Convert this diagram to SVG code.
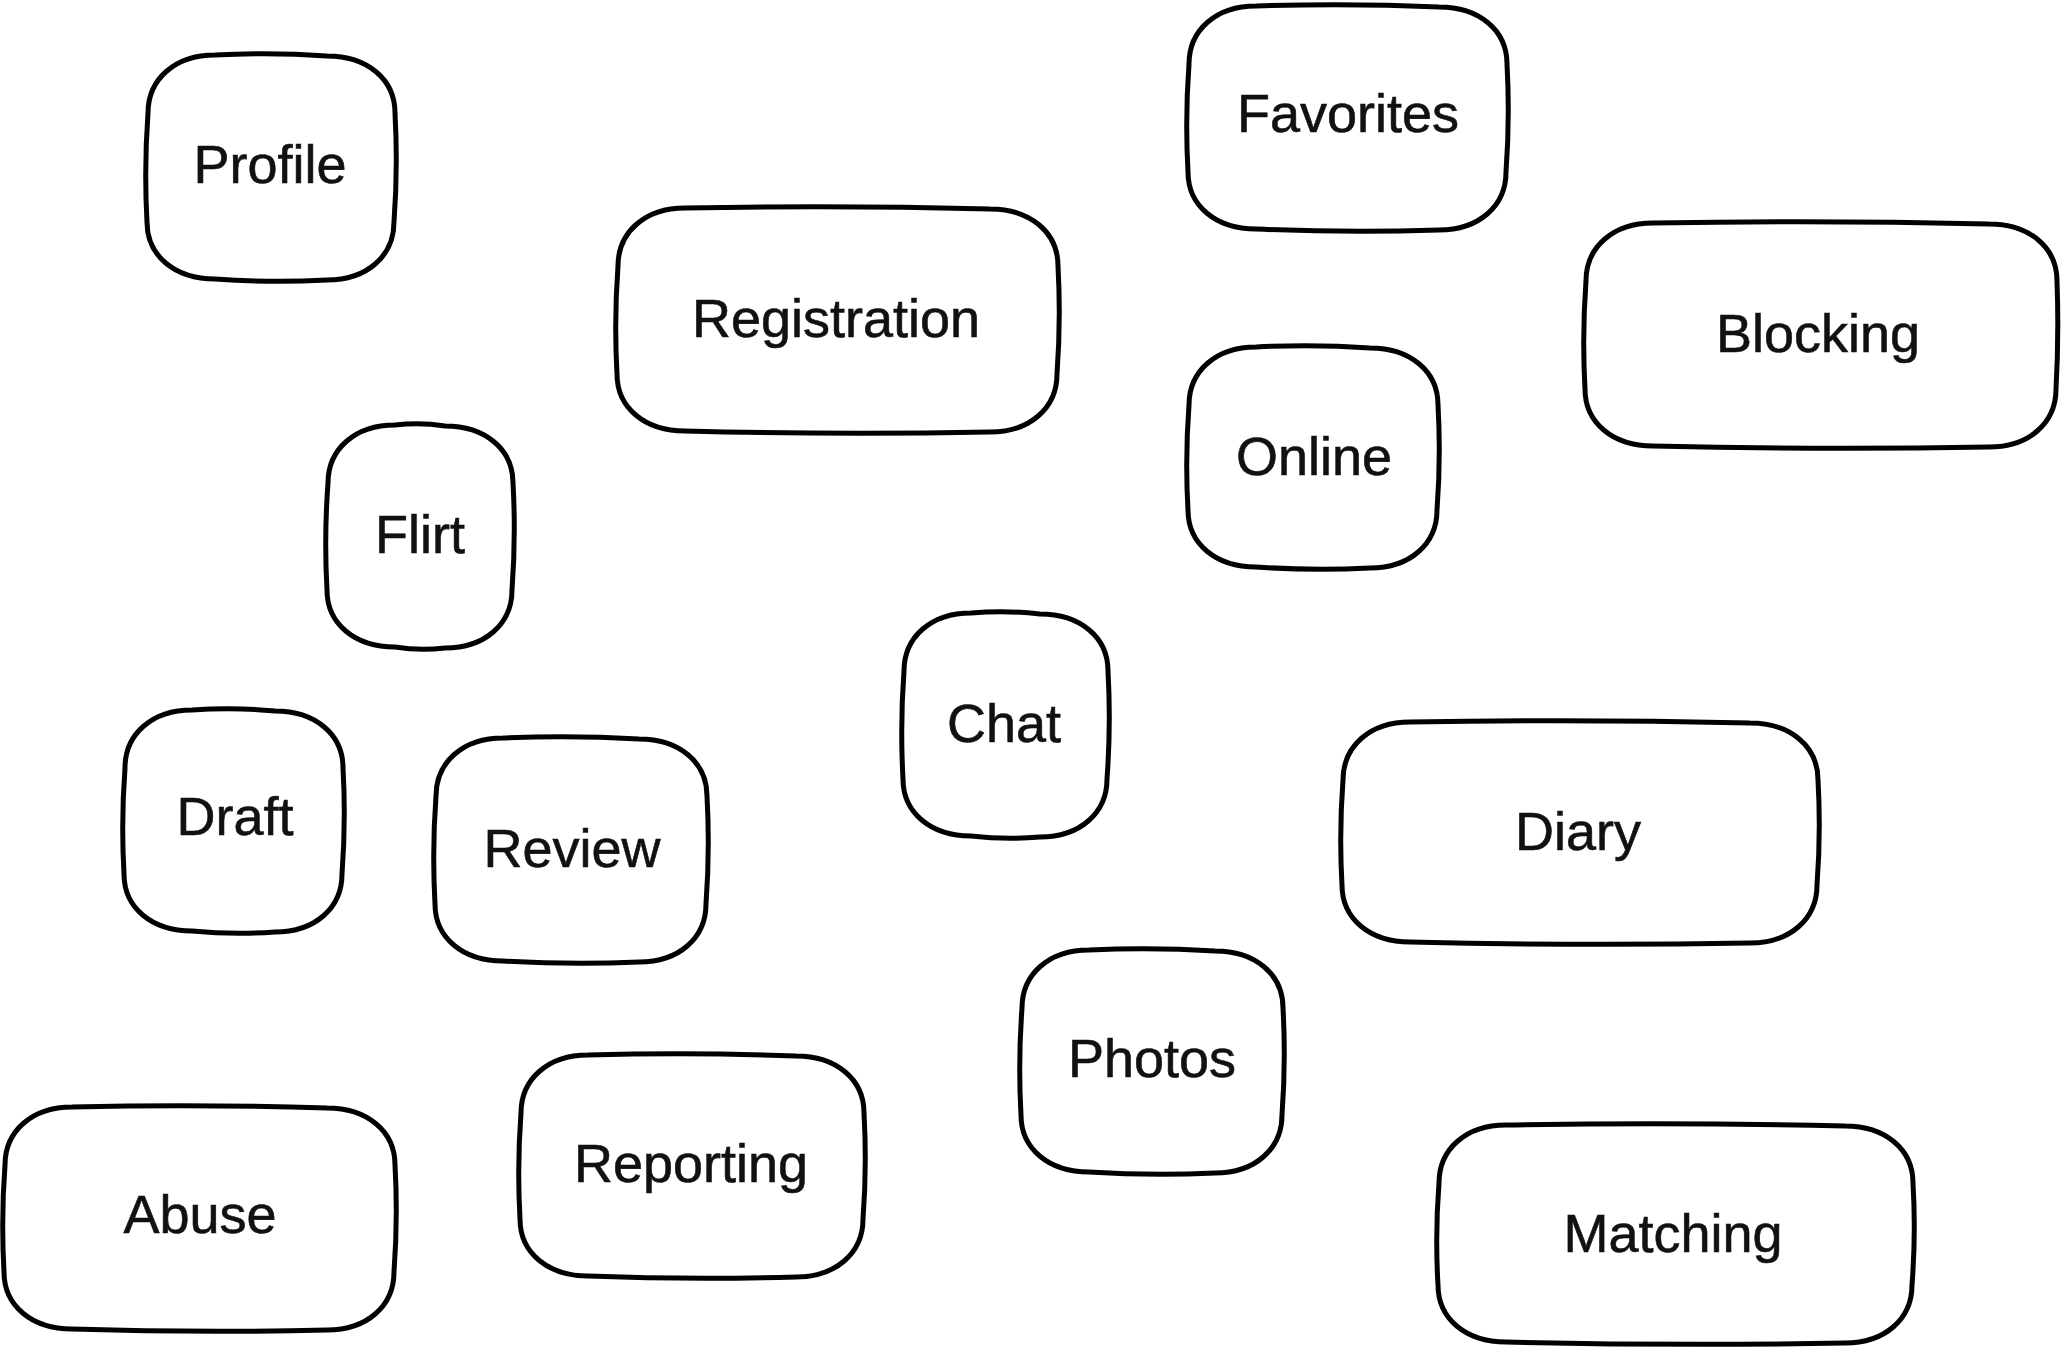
<svg xmlns="http://www.w3.org/2000/svg" width="2062" height="1350" viewBox="0 0 2062 1350">
<style>
.box{fill:#ffffff;stroke:#000000;stroke-width:5;stroke-linejoin:round;stroke-linecap:round}
.lbl{font-family:"Liberation Sans",Arial,sans-serif;font-size:54px;fill:#111111;text-anchor:middle;stroke:#111111;stroke-width:0.6}
</style>
<rect width="2062" height="1350" fill="#ffffff"/>
<g id="connectors"></g>
<g id="node-profile"><path class="box" d="M 215 55 Q 271 52 327 56 C 367 56 395 79 395 113 Q 398 168 394 222 C 394 256 367 280 327 280 Q 271 283 215 279 C 175 279 147 256 147 222 Q 144 168 148 113 C 148 79 175 55 215 55 Z"/><text class="lbl" x="270" y="183">Profile</text></g>
<g id="node-favorites"><path class="box" d="M 1256 6 Q 1348 3 1439 7 C 1479 7 1507 30 1507 64 Q 1510 118 1506 172 C 1506 206 1479 230 1439 230 Q 1348 233 1256 229 C 1216 229 1188 206 1188 172 Q 1185 118 1189 64 C 1189 30 1216 6 1256 6 Z"/><text class="lbl" x="1348" y="132">Favorites</text></g>
<g id="node-registration"><path class="box" d="M 685 208 Q 838 205 990 209 C 1030 209 1058 232 1058 266 Q 1061 320 1057 374 C 1057 408 1030 432 990 432 Q 838 435 685 431 C 645 431 617 408 617 374 Q 614 320 618 266 C 618 232 645 208 685 208 Z"/><text class="lbl" x="836" y="337">Registration</text></g>
<g id="node-blocking"><path class="box" d="M 1653 223 Q 1821 220 1989 224 C 2029 224 2057 247 2057 281 Q 2059 335 2056 389 C 2056 423 2029 447 1989 447 Q 1821 450 1653 446 C 1613 446 1585 423 1585 389 Q 1582 335 1586 281 C 1586 247 1613 223 1653 223 Z"/><text class="lbl" x="1818" y="352">Blocking</text></g>
<g id="node-online"><path class="box" d="M 1256 347 Q 1313 344 1370 348 C 1410 348 1438 371 1438 405 Q 1441 458 1437 510 C 1437 544 1410 568 1370 568 Q 1313 571 1256 567 C 1216 567 1188 544 1188 510 Q 1185 458 1189 405 C 1189 371 1216 347 1256 347 Z"/><text class="lbl" x="1314" y="475">Online</text></g>
<g id="node-flirt"><path class="box" d="M 395 425 Q 420 422 445 426 C 485 426 513 449 513 483 Q 516 537 512 590 C 512 624 485 648 445 648 Q 420 651 395 647 C 355 647 327 624 327 590 Q 324 537 328 483 C 328 449 355 425 395 425 Z"/><text class="lbl" x="420" y="553">Flirt</text></g>
<g id="node-chat"><path class="box" d="M 971 613 Q 1006 610 1040 614 C 1080 614 1108 637 1108 671 Q 1111 725 1107 779 C 1107 813 1080 837 1040 837 Q 1006 840 971 836 C 931 836 903 813 903 779 Q 900 725 904 671 C 904 637 931 613 971 613 Z"/><text class="lbl" x="1004" y="742">Chat</text></g>
<g id="node-draft"><path class="box" d="M 192 710 Q 234 707 275 711 C 315 711 343 734 343 768 Q 346 821 342 874 C 342 908 315 932 275 932 Q 234 935 192 931 C 152 931 124 908 124 874 Q 121 821 125 768 C 125 734 152 710 192 710 Z"/><text class="lbl" x="235" y="835">Draft</text></g>
<g id="node-review"><path class="box" d="M 503 738 Q 571 735 639 739 C 679 739 707 762 707 796 Q 710 850 706 904 C 706 938 679 962 639 962 Q 571 965 503 961 C 463 961 435 938 435 904 Q 432 850 436 796 C 436 762 463 738 503 738 Z"/><text class="lbl" x="572" y="867">Review</text></g>
<g id="node-diary"><path class="box" d="M 1410 722 Q 1580 719 1750 723 C 1790 723 1818 746 1818 780 Q 1821 833 1817 885 C 1817 919 1790 943 1750 943 Q 1580 946 1410 942 C 1370 942 1342 919 1342 885 Q 1339 833 1343 780 C 1343 746 1370 722 1410 722 Z"/><text class="lbl" x="1578" y="850">Diary</text></g>
<g id="node-photos"><path class="box" d="M 1089 950 Q 1152 947 1215 951 C 1255 951 1283 974 1283 1008 Q 1286 1062 1282 1115 C 1282 1149 1255 1173 1215 1173 Q 1152 1176 1089 1172 C 1049 1172 1021 1149 1021 1115 Q 1018 1062 1022 1008 C 1022 974 1049 950 1089 950 Z"/><text class="lbl" x="1152" y="1077">Photos</text></g>
<g id="node-reporting"><path class="box" d="M 588 1055 Q 692 1052 796 1056 C 836 1056 864 1079 864 1113 Q 867 1166 863 1219 C 863 1253 836 1277 796 1277 Q 692 1280 588 1276 C 548 1276 520 1253 520 1219 Q 517 1166 521 1113 C 521 1079 548 1055 588 1055 Z"/><text class="lbl" x="691" y="1182">Reporting</text></g>
<g id="node-abuse"><path class="box" d="M 72 1107 Q 200 1104 327 1108 C 367 1108 395 1131 395 1165 Q 398 1218 394 1272 C 394 1306 367 1330 327 1330 Q 200 1333 72 1329 C 32 1329 4 1306 4 1272 Q 1 1218 5 1165 C 5 1131 32 1107 72 1107 Z"/><text class="lbl" x="200" y="1233">Abuse</text></g>
<g id="node-matching"><path class="box" d="M 1506 1125 Q 1676 1122 1845 1126 C 1885 1126 1913 1149 1913 1183 Q 1916 1234 1912 1285 C 1912 1319 1885 1343 1845 1343 Q 1676 1346 1506 1342 C 1466 1342 1438 1319 1438 1285 Q 1435 1234 1439 1183 C 1439 1149 1466 1125 1506 1125 Z"/><text class="lbl" x="1673" y="1252">Matching</text></g>
</svg>
